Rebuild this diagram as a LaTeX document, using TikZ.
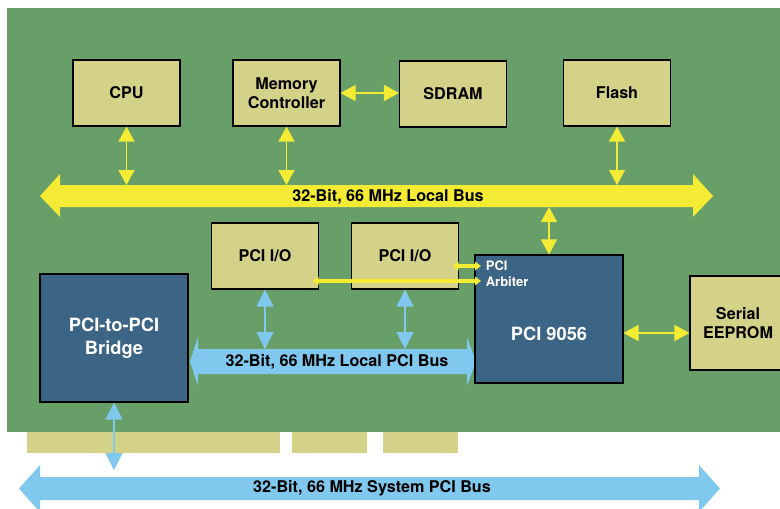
\documentclass[tikz,border=0pt]{standalone}
\usepackage{fontspec}
\setmainfont{TeX Gyre Heros}
\usepackage{tikz}
\usetikzlibrary{
  arrows.meta,
  calc,
  positioning
  }
\definecolor{board}{HTML}{689E68}
\definecolor{chip}{HTML}{D4D189}
\definecolor{plx}{HTML}{3C6485}
\definecolor{lbus}{HTML}{F4EC34}
\definecolor{pbus}{HTML}{80C8EE}
\tikzstyle{box}=[draw=black,fill=chip,line width=0.6pt,minimum width=2.14cm,minimum height=1.32cm,align=center,font=\fontsize{9.2}{10.8}\selectfont\bfseries]
\tikzstyle{bigbox}=[draw=black,fill=plx,line width=0.6pt,minimum width=2.96cm,minimum height=2.56cm,align=center,text=white,font=\fontsize{10.4}{13}\selectfont\bfseries]
\tikzstyle{ylink}=[draw=lbus,line width=0.6pt,{Triangle[width=0.32cm,length=0.3cm]}-{Triangle[width=0.32cm,length=0.3cm]}]
\tikzstyle{blink}=[draw=pbus,line width=0.6pt,{Triangle[width=0.34cm,length=0.34cm]}-{Triangle[width=0.34cm,length=0.34cm]}]
\tikzstyle{arb}=[draw=lbus,line width=2.2pt,shorten <=-0.13cm,shorten >=-0.13cm,{Triangle[width=0.17cm,length=0.12cm]}-{Triangle[width=0.17cm,length=0.12cm]}]
\tikzstyle{buslabel}=[font=\fontsize{9.2}{11}\selectfont\bfseries]

\begin{document}
\begin{tikzpicture}[x=0.02cm,y=-0.02cm]
\useasboundingbox (0,0) rectangle (780,508);
\clip (0,0) rectangle (780,508);
\fill[white] (0,0) rectangle (780,508);
% board and edge fingers
\fill[board] (7,8) rectangle (790,432);
\foreach \a/\b in {27/280,292/367,383/458}
  \fill[chip] (\a,432) rectangle (\b,453);
% buses
\fill[lbus] (40,196) -- (60,174) -- (60,185) -- (693,185) -- (693,174) --
   (713,196) -- (693,217) -- (693,207) -- (60,207) -- (60,217) -- cycle;
\fill[pbus] (190,361.5) -- (198,337) -- (198,349) -- (467,349) -- (467,337) --
   (476,361.5) -- (467,386) -- (467,374) -- (198,374) -- (198,386) -- cycle;
\fill[pbus] (19,488.5) -- (40,465) -- (40,477) -- (699,477) -- (699,465) --
   (720,488.5) -- (699,512) -- (699,500) -- (40,500) -- (40,512) -- cycle;
\node[buslabel] (lb) at (388,197) {32-Bit, 66 MHz Local Bus};
\node[buslabel] (pb) at (337,362) {32-Bit, 66 MHz Local PCI Bus};
\node[buslabel] (sb) at (372,488.5) {32-Bit, 66 MHz System PCI Bus};
\coordinate (lbtop) at (0,185);
\coordinate (lbbot) at (0,207);
\coordinate (pbtop) at (0,349);
\coordinate (sbtop) at (0,470);
% blocks
\node[box] (cpu) at (126.5,93) {CPU};
\path (cpu)++(160,0) node[box] (mem) {Memory\\Controller};
\node[box] (sdram) at (453,94) {SDRAM};
\node[box] (flash) at (617,93) {Flash};
\node[box] (io1) at (265,256) {PCI I/O};
\path (io1)++(140,0) node[box] (io2) {PCI I/O};
\node[bigbox] (plx) at (549,319) {};
\node[text=white,font=\fontsize{10.4}{13}\selectfont\bfseries] (plxname) at ([yshift=-0.3cm]plx.center) {PCI 9056};
\node[box,minimum width=1.92cm,minimum height=1.88cm] (eep) at (738,323) {Serial\\EEPROM};
\node[bigbox] (bridge) at (114,338) {PCI-to-PCI\\Bridge};
\node[anchor=north west,inner sep=0pt,align=left,text=white,font=\fontsize{7.4}{9}\selectfont\bfseries]
   (arbtxt) at ([xshift=0.22cm,yshift=-0.12cm]plx.north west) {PCI\\Arbiter};
% links
\draw[ylink] (cpu.south) -- (cpu.south |- lbtop);
\draw[ylink] (mem.south) -- (mem.south |- lbtop);
\draw[ylink] (flash.south) -- (flash.south |- lbtop);
\draw[ylink] (plx.north) -- (plx.north |- lbbot);
\draw[ylink] (mem.east) -- (sdram.west |- mem.east);
\coordinate (eepin) at ([yshift=-0.2cm]eep.west);
\draw[ylink] (eepin) -- (eepin -| plx.east);
\draw[blink] (io1.south) -- (io1.south |- pbtop);
\draw[blink] (io2.south) -- (io2.south |- pbtop);
\draw[blink] (bridge.south) -- (bridge.south |- sbtop);
\coordinate (arbA) at ([yshift=-0.2cm]io2.east);
\coordinate (arbB) at ([yshift=-0.5cm]io1.east);
\draw[arb] (arbA) -- (arbA -| plx.west);
\draw[arb] (arbB) -- (arbB -| plx.west);
\end{tikzpicture}
\end{document}
